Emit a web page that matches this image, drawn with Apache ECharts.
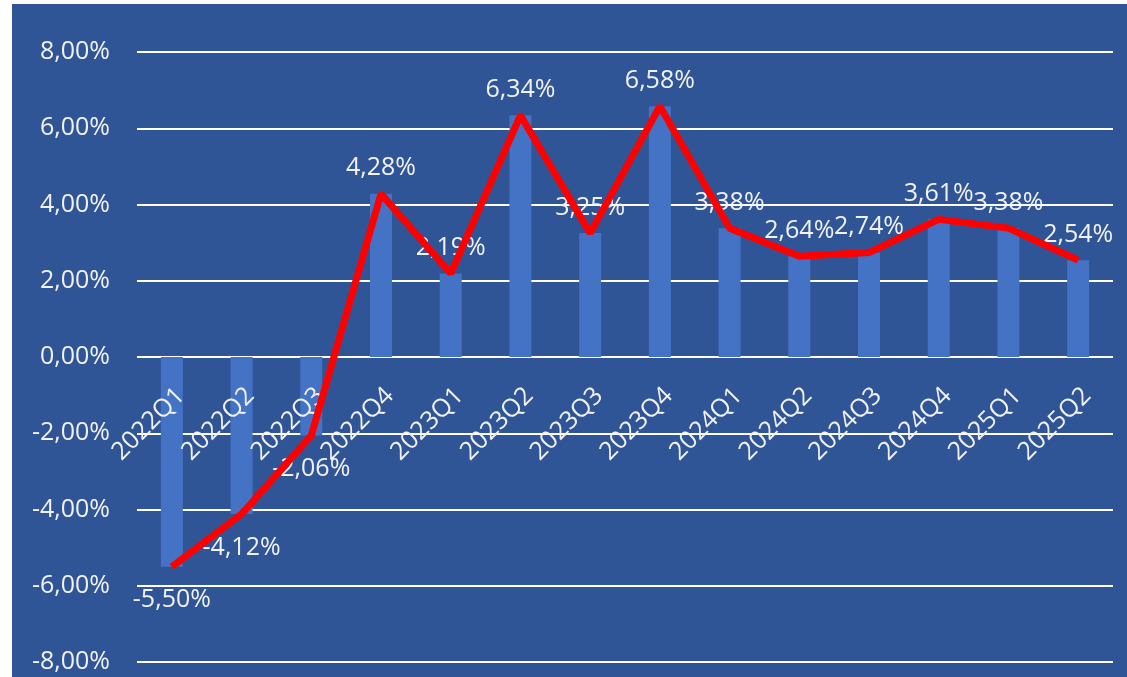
<!DOCTYPE html>
<html>
<head>
<meta charset="utf-8">
<script src="https://cdn.jsdelivr.net/npm/echarts@6/dist/echarts.min.js"></script>
<style>
  html, body { margin: 0; padding: 0; background: #ffffff; }
  #chart {
    position: absolute;
    left: 12px;
    top: 4px;
    width: 1115px;
    height: 673px;
  }
</style>
</head>
<body>
<div id="chart"></div>
<script>
// quarters and growth rates (%)
const categories = ["2022Q1", "2022Q2", "2022Q3", "2022Q4", "2023Q1", "2023Q2", "2023Q3",
  "2023Q4", "2024Q1", "2024Q2", "2024Q3", "2024Q4", "2025Q1", "2025Q2"]
const barValues = [-5.50, -4.12, -2.06, 4.28, 2.19, 6.34, 3.25, 6.58, 3.38, 2.64, 2.74, 3.61, 3.38, 2.54]
const lineValues = [-5.50, -4.12, -2.06, 4.28, 2.19, 6.34, 3.25, 6.58, 3.38, 2.64, 2.74, 3.61, 3.38, 2.54]

const fmt = (v) => v.toFixed(2).replace(".", ",") + "%"
const textColor = "#f2f2f2"
const font = "'Open Sans', 'Liberation Sans', sans-serif"
const fontSize = 25

const gridTop = 48
const gridBottom = 15
const chartHeight = 673

const myChart = echarts.init(document.getElementById("chart"))

// 负值标签离柱子远一点
const barData = barValues.map((v) => ({
  value: v,
  label: { distance: v < 0 ? 21 : 13 }
}))

const option = {
  backgroundColor: "#2f5597",
  animation: false,
  grid: {
    left: 125,
    right: 14,
    top: gridTop,
    bottom: gridBottom,
    containLabel: false,
    outerBoundsMode: "none"
  },
  xAxis: {
    type: "category",
    data: categories,
    position: "bottom",
    z: 2,
    // 轴放在 0 值处（y 轴 -8 ~ 8 对称）
    offset: -(chartHeight - gridTop - gridBottom) / 2,
    axisLine: { show: false, onZero: false },
    axisTick: { show: false },
    axisLabel: {
      interval: 0,
      rotate: 45,
      margin: 26,
      verticalAlign: "top",
      color: textColor,
      fontSize: fontSize,
      fontFamily: font
    }
  },
  yAxis: {
    type: "value",
    min: -8,
    max: 8,
    interval: 2,
    axisLine: { show: false },
    axisTick: { show: false },
    axisLabel: {
      margin: 27,
      color: textColor,
      fontSize: fontSize,
      fontFamily: font,
      formatter: (v) => fmt(v)
    },
    splitLine: {
      lineStyle: { color: "#ffffff", width: 2 }
    }
  },
  series: [
    {
      type: "bar",
      data: barData,
      barWidth: 22,
      z: 1,
      itemStyle: { color: "#4472c4" },
      label: {
        show: true,
        position: "outside",
        color: textColor,
        fontSize: fontSize,
        fontFamily: font,
        formatter: (p) => fmt(p.value)
      }
    },
    {
      type: "line",
      data: lineValues,
      z: 3,
      symbol: "none",
      lineStyle: { color: "#ff0000", width: 7 }
    }
  ]
}

myChart.setOption(option)
window.addEventListener("resize", () => {
  myChart.resize()
})
</script>
</body>
</html>
